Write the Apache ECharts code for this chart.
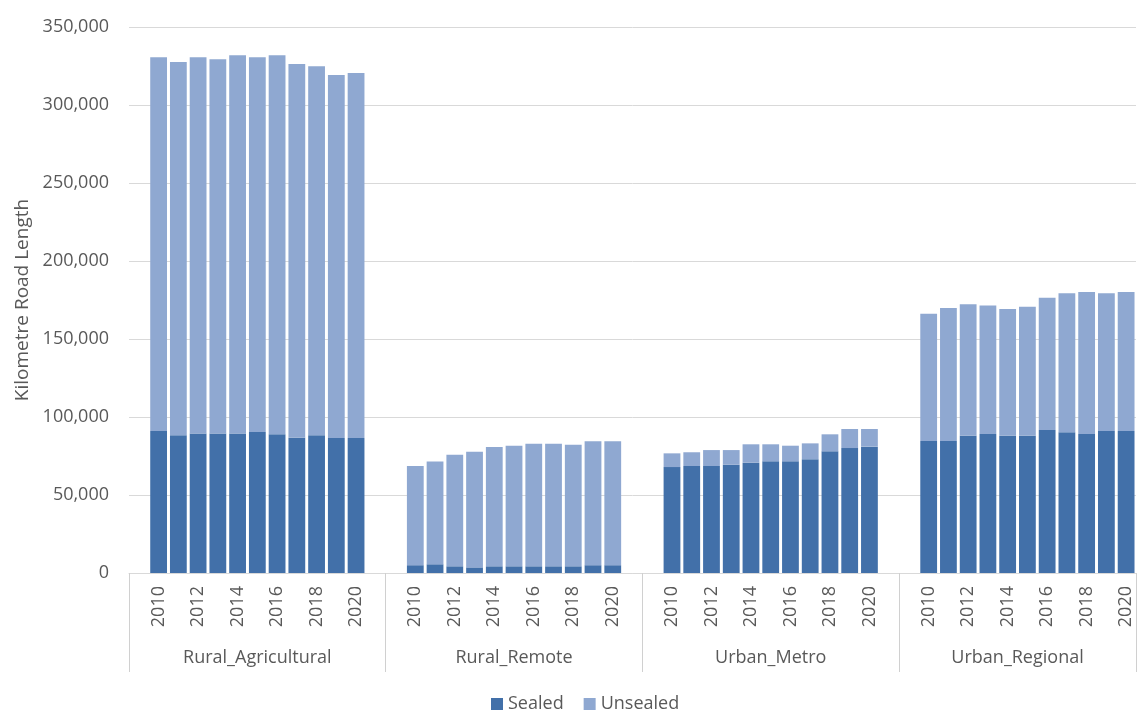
<!DOCTYPE html>
<html>
<head>
<meta charset="utf-8">
<title>Road length by area type</title>
<script src="https://cdn.jsdelivr.net/npm/echarts@6.0.0/dist/echarts.min.js"></script>
<style>
  html, body { margin: 0; padding: 0; background: #fff; }
  #chart { width: 1143px; height: 711px; }
</style>
</head>
<body>
<div id="chart"></div>
<script>
const groups = ['Rural_Agricultural', 'Rural_Remote', 'Urban_Metro', 'Urban_Regional']
const years = ['2010', '2011', '2012', '2013', '2014', '2015', '2016', '2017', '2018', '2019', '2020']

// km of sealed road, one array per group (2010..2020)
const sealedAgricultural = [91000, 88300, 89500, 89500, 89500, 90400, 88900, 86700, 88300, 86500, 86500]
const sealedRemote = [5000, 5600, 4300, 3600, 4300, 4300, 4300, 4300, 4300, 5000, 5000]
const sealedMetro = [67900, 68600, 68600, 69400, 70700, 71600, 71600, 72900, 78000, 80100, 81000]
const sealedRegional = [84600, 84600, 88000, 89100, 88000, 88000, 91700, 90200, 89100, 91000, 91000]

// km of unsealed road
const unsealedAgricultural = [239600, 239300, 241100, 239800, 242400, 240200, 243000, 239600, 236500, 232700, 234000]
const unsealedRemote = [63600, 65800, 71500, 74200, 76500, 77300, 78600, 78600, 77900, 79400, 79400]
const unsealedMetro = [8800, 8800, 10200, 9400, 11800, 10900, 10000, 10200, 10900, 12200, 11300]
const unsealedRegional = [81600, 85300, 84200, 82300, 81200, 82700, 84800, 89100, 91000, 88300, 89100]

const yTicks = [0, 50000, 100000, 150000, 200000, 250000, 300000, 350000]

const textColor = '#595959'
const font = 'Open Sans'

// Excel-style layout: a blank slot before each group and after every group but the last
function buildSlots(perGroup) {
  const out = []
  perGroup.forEach((arr, g) => {
    out.push(null)
    arr.forEach(v => out.push(v))
    if (g < perGroup.length - 1) out.push(null)
  })
  return out
}

const categories = buildSlots(groups.map(() => years)).map(c => c || '')
const sealedData = buildSlots([sealedAgricultural, sealedRemote, sealedMetro, sealedRegional])
const unsealedData = buildSlots([unsealedAgricultural, unsealedRemote, unsealedMetro, unsealedRegional])

// group boundaries and centres in slot units for the second (group) axis
const slotCount = categories.length
const boundaries = [0]
groups.forEach((g, i) => {
  const width = years.length + (i < groups.length - 1 ? 2 : 1)
  boundaries.push(boundaries[i] + width)
})
const groupCentres = groups.map((g, i) => (boundaries[i] + boundaries[i + 1]) / 2)

const chart = echarts.init(document.getElementById('chart'))

const option = {
  animation: false,
  textStyle: { fontFamily: font },
  grid: { left: 129, right: 7, top: 27, bottom: 138, containLabel: false },
  legend: {
    data: ['Sealed', 'Unsealed'],
    left: 486,
    top: 690,
    icon: 'rect',
    itemWidth: 12,
    itemHeight: 12,
    itemGap: 20,
    selectedMode: false,
    textStyle: { color: textColor, fontSize: 18, fontFamily: font }
  },
  xAxis: [
    {
      type: 'category',
      data: categories,
      axisLine: { lineStyle: { color: '#d9d9d9', width: 1 } },
      axisTick: { show: false },
      axisLabel: {
        rotate: 90,
        margin: 13,
        interval: (index, value) => value !== '' && Number(value) % 2 === 0,
        color: textColor,
        fontSize: 18,
        fontFamily: font
      }
    },
    {
      type: 'value',
      position: 'bottom',
      min: 0,
      max: slotCount,
      axisLine: { show: false },
      splitLine: { show: false },
      axisTick: {
        show: true,
        customValues: boundaries,
        length: 99,
        lineStyle: { color: '#d0d0d0', width: 1 }
      },
      axisLabel: {
        customValues: groupCentres,
        margin: 76,
        color: textColor,
        fontSize: 18,
        fontFamily: font,
        formatter: v => groups[groupCentres.indexOf(v)] || ''
      }
    }
  ],
  yAxis: {
    type: 'value',
    min: yTicks[0],
    max: yTicks[yTicks.length - 1],
    interval: yTicks[1] - yTicks[0],
    name: 'Kilometre Road Length',
    nameLocation: 'middle',
    nameGap: 96,
    nameTextStyle: { color: textColor, fontSize: 19, fontFamily: font },
    axisLine: { show: false },
    axisTick: { show: false },
    splitLine: { lineStyle: { color: '#d9d9d9', width: 1 } },
    axisLabel: {
      margin: 20,
      color: textColor,
      fontSize: 18,
      fontFamily: font,
      formatter: v => v.toLocaleString('en-US')
    }
  },
  series: [
    {
      name: 'Sealed',
      type: 'bar',
      stack: 'road',
      barCategoryGap: '15%',
      data: sealedData,
      itemStyle: { color: '#4270a9' }
    },
    {
      name: 'Unsealed',
      type: 'bar',
      stack: 'road',
      barCategoryGap: '15%',
      data: unsealedData,
      itemStyle: { color: '#8fa8d1' }
    }
  ]
}

chart.setOption(option)
</script>
</body>
</html>
